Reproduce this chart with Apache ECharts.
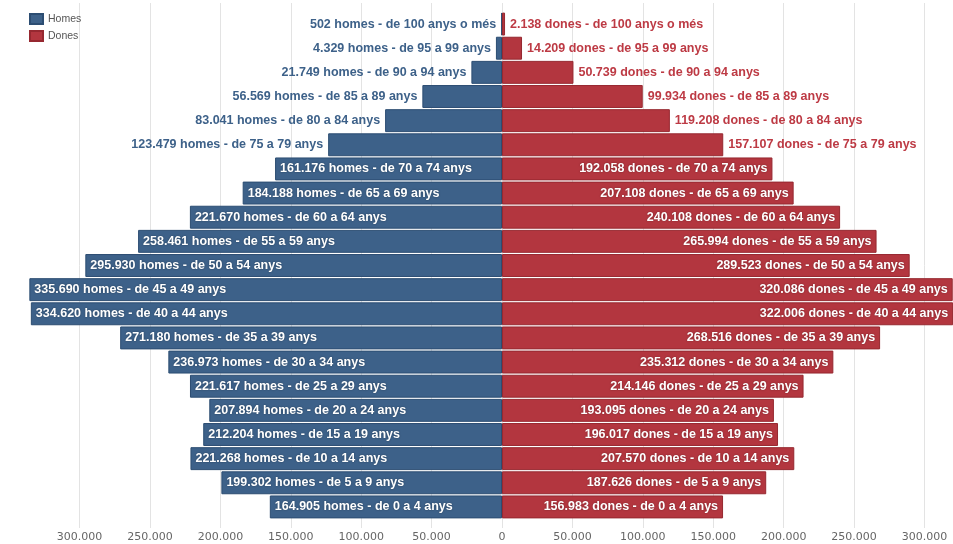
<!DOCTYPE html>
<html>
<head>
<meta charset="utf-8">
<title>Piràmide de població</title>
<script src="https://cdn.jsdelivr.net/npm/echarts@6/dist/echarts.min.js"></script>
<style>
  html, body { margin: 0; padding: 0; background: #fff; }
  #chart { width: 953px; height: 544px; }
</style>
</head>
<body>
<div id="chart"></div>
<script>
// grups d'edat, de dalt a baix
const ageGroups = [
  '100 anys o més', '95 a 99 anys', '90 a 94 anys', '85 a 89 anys', '80 a 84 anys',
  '75 a 79 anys', '70 a 74 anys', '65 a 69 anys', '60 a 64 anys', '55 a 59 anys',
  '50 a 54 anys', '45 a 49 anys', '40 a 44 anys', '35 a 39 anys', '30 a 34 anys',
  '25 a 29 anys', '20 a 24 anys', '15 a 19 anys', '10 a 14 anys', '5 a 9 anys',
  '0 a 4 anys'
]

const homes = [
  502, 4329, 21749, 56569, 83041, 123479, 161176, 184188, 221670, 258461,
  295930, 335690, 334620, 271180, 236973, 221617, 207894, 212204, 221268, 199302,
  164905
]

const dones = [
  2138, 14209, 50739, 99934, 119208, 157107, 192058, 207108, 240108, 265994,
  289523, 320086, 322006, 268516, 235312, 214146, 193095, 196017, 207570, 187626,
  156983
]

// true = etiqueta dins la barra
const labelInside = [
  false, false, false, false, false, false, true, true, true, true,
  true, true, true, true, true, true, true, true, true, true, true
]

const axisTicks = [-300000, -250000, -200000, -150000, -100000, -50000, 0,
  50000, 100000, 150000, 200000, 250000, 300000]

const BLUE = '#3d6189'
const RED = '#b3363f'

const fmt = v => String(Math.abs(v)).replace(/\B(?=(\d{3})+(?!\d))/g, '.')

const chart = echarts.init(document.getElementById('chart'))

const makeData = (values, sign, word, color) => values.map((v, i) => {
  const inside = labelInside[i]
  let pos
  if (sign < 0) pos = inside ? 'insideLeft' : 'left'
  else pos = inside ? 'insideRight' : 'right'
  return {
    value: sign * v,
    label: {
      show: true,
      position: pos,
      distance: 5,
      color: inside ? '#fff' : color,
      fontFamily: 'Liberation Sans, Arial, sans-serif',
      fontWeight: 'bold',
      fontSize: 12.5,
      textShadowColor: inside ? 'rgba(0,0,0,0.35)' : 'transparent',
      textShadowBlur: inside ? 2 : 0,
      formatter: () => fmt(v) + ' ' + word + ' - de ' + ageGroups[i]
    }
  }
})

// 50.000 = 70,4 px; el zero cau a x = 502; l'eix acaba a la vora dreta
const X_MIN = -350000
const X_MAX = 320000
const GRID_LEFT = 9.2
const GRID_RIGHT = 0.4

const option = {
  animation: false,
  legend: {
    data: ['Homes', 'Dones'],
    orient: 'vertical',
    left: 24,
    top: 8,
    itemWidth: 13,
    itemHeight: 10,
    itemGap: 5,
    icon: 'rect',
    textStyle: { fontSize: 10.5, color: '#555', fontFamily: 'Liberation Sans, Arial, sans-serif' }
  },
  grid: [
    { left: GRID_LEFT, right: GRID_RIGHT, top: 3, bottom: 16 },
    { left: GRID_LEFT, right: GRID_RIGHT, top: 12, bottom: 25 }
  ],
  xAxis: [
    {
      gridIndex: 0,
      type: 'value',
      min: X_MIN,
      max: X_MAX,
      interval: 50000,
      axisLine: { show: false },
      axisTick: { show: false },
      axisLabel: {
        color: '#666',
        fontSize: 11,
        margin: 4,
        showMinLabel: false,
        showMaxLabel: false,
        fontFamily: 'DejaVu Sans, Verdana, sans-serif',
        formatter: v => axisTicks.includes(v) ? fmt(v) : ''
      },
      splitLine: { show: true, showMinLine: false, showMaxLine: false, lineStyle: { color: '#e3e3e3', width: 1 } }
    },
    {
      gridIndex: 1,
      type: 'value',
      min: X_MIN,
      max: X_MAX,
      show: false
    }
  ],
  yAxis: [
    { gridIndex: 0, type: 'category', data: ageGroups, show: false },
    { gridIndex: 1, type: 'category', data: ageGroups, inverse: true, show: false }
  ],
  series: [
    {
      name: 'Homes',
      type: 'bar',
      xAxisIndex: 1,
      yAxisIndex: 1,
      stack: 'pop',
      barCategoryGap: '5%',
      itemStyle: { color: BLUE, borderColor: '#2c4d72', borderWidth: 1 },
      data: makeData(homes, -1, 'homes', BLUE)
    },
    {
      name: 'Dones',
      type: 'bar',
      xAxisIndex: 1,
      yAxisIndex: 1,
      stack: 'pop2',
      barGap: '-100%',
      barCategoryGap: '5%',
      itemStyle: { color: RED, borderColor: '#962830', borderWidth: 1 },
      data: makeData(dones, 1, 'dones', '#bd3a44')
    }
  ]
}

chart.setOption(option)
</script>
</body>
</html>
